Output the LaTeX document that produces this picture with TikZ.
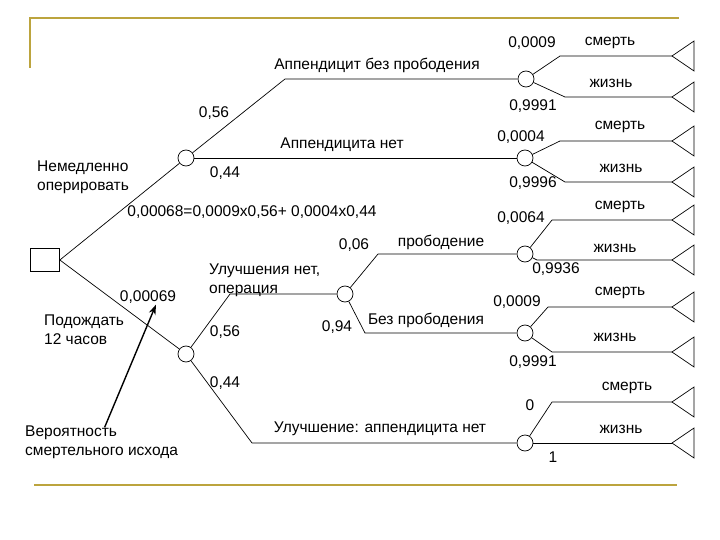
\documentclass[tikz,border=0pt]{standalone}
\usepackage{fontspec}
\setmainfont{Liberation Sans}
\usepackage{tikz}
\usetikzlibrary{arrows.meta}
\definecolor{framegold}{RGB}{188,164,62}
\tikzset{
    decision/.style={rectangle, draw, minimum width=29pt, minimum height=23pt, inner sep=0pt, line width=0.7pt},
    chance/.style={circle, draw, minimum size=16pt, inner sep=0pt, line width=0.7pt},
    branch/.style={draw, line width=0.7pt},
    lbl/.style={inner sep=0pt, font=\fontsize{15.5}{19}\selectfont},
    pointer/.style={-{Stealth[length=10pt, width=7pt]}, line width=1.4pt},
    frame/.style={line width=2pt, color=framegold}
}
\begin{document}
\begin{tikzpicture}[x=1pt, y=-1pt]
    \useasboundingbox (0,0) rectangle (720,540);

    % Rahmen
    \draw[frame] (30,68) -- (30,18) -- (679,18);
    \draw[frame] (34,485) -- (677,485);

    % Knoten
    \node[decision] (d) at (45,260) {};
    \node[chance] (c1) at (186,158) {};
    \node[chance] (c2) at (526,79) {};
    \node[chance] (c3) at (525,158) {};
    \node[chance] (c4) at (186,354) {};
    \node[chance] (c5) at (345,294) {};
    \node[chance] (c6) at (525,254) {};
    \node[chance] (c7) at (525,333) {};
    \node[chance] (c8) at (525,443) {};

    % Endknoten (Dreiecke)
    \foreach \i/\ty in {1/56, 2/97, 3/141, 4/182, 5/220, 6/260, 7/307, 8/352, 9/402, 10/443}{
        \coordinate (t\i) at (672,\ty);
        \draw[branch] (t\i) -- ++(22,-15) -- ++(0,30) -- cycle;
    }

    % Zweige
    \draw[branch] (d.east) -- (c1);
    \draw[branch] (d.east) -- (c4);
    \draw[branch] (c1) -- ([xshift=-241pt]c2.center) -- (c2);
    \draw[branch] (c1) -- (c3);
    \draw[branch] (c2) -- ([xshift=-112pt]t1) -- (t1);
    \draw[branch] (c2) -- ([xshift=-107pt]t2) -- (t2);
    \draw[branch] (c3) -- ([xshift=-112pt]t3) -- (t3);
    \draw[branch] (c3) -- ([xshift=-107pt]t4) -- (t4);
    \draw[branch] (c4) -- ([xshift=-115pt]c5.center) -- (c5);
    \draw[branch] (c4) -- ([xshift=-273pt]c8.center) -- (c8);
    \draw[branch] (c5) -- ([xshift=-147pt]c6.center) -- (c6);
    \draw[branch] (c5) -- ([xshift=-160pt]c7.center) -- (c7);
    \draw[branch] (c6) -- ([xshift=-120pt]t5) -- (t5);
    \draw[branch] (c6) -- ([xshift=-135pt]t6) -- (t6);
    \draw[branch] (c7) -- ([xshift=-124pt]t7) -- (t7);
    \draw[branch] (c7) -- ([xshift=-120pt]t8) -- (t8);
    \draw[branch] (c8) -- ([xshift=-120pt]t9) -- (t9);
    \draw[branch] (c8) -- (t10);

    % Beschriftungen oben
    \node[lbl] (p1) at (532,43) {0,0009};
    \node[lbl] (s1) at (610,43) {смерть};
    \node[lbl] (abp) at (377,65) {Аппендицит без прободения};
    \node[lbl] (z1) at (611,83) {жизнь};
    \node[lbl] (p2) at (533,106) {0,9991};
    \node[lbl] (q1) at (214,113) {0,56};
    \node[lbl] (an) at (342,145) {Аппендицита нет};
    \node[lbl] (p3) at (521,137) {0,0004};
    \node[lbl] (s2) at (620,127) {смерть};
    \node[lbl] (z2) at (621,168) {жизнь};
    \node[lbl] (p4) at (533,183) {0,9996};
    \node[lbl, align=left, anchor=west] (oper) at (37,177) {Немедленно\\оперировать};
    \node[lbl] (q2) at (225,173) {0,44};
    \node[lbl] (calc) at (252,212) {0,00068=0,0009х0,56+ 0,0004х0,44};

    % Beschriftungen unten
    \node[lbl] (q3) at (354,245) {0,06};
    \node[lbl] (prob) at (441,242) {прободение};
    \node[lbl, align=left, anchor=west] (noimp) at (209,280) {Улучшения нет,\\операция};
    \node[lbl] (v69) at (148,297) {0,00069};
    \node[lbl, align=left, anchor=west] (wait) at (44,330) {Подождать\\12 часов};
    \node[lbl] (q4) at (225,332) {0,56};
    \node[lbl] (q5) at (337,327) {0,94};
    \node[lbl] (bp) at (426,320) {Без прободения};
    \node[lbl] (p5) at (521,218) {0,0064};
    \node[lbl] (s3) at (620,207) {смерть};
    \node[lbl] (z3) at (615,248) {жизнь};
    \node[lbl] (p6) at (556,269) {0,9936};
    \node[lbl] (p7) at (517,302) {0,0009};
    \node[lbl] (s4) at (620,293) {смерть};
    \node[lbl] (z4) at (615,337) {жизнь};
    \node[lbl] (p8) at (533,362) {0,9991};
    \node[lbl] (q6) at (225,383) {0,44};
    \node[lbl] (p9) at (530,405) {0};
    \node[lbl] (s5) at (627,388) {смерть};
    \node[lbl] (imp) at (380,429) {Улучшение: аппендицита нет};
    \node[lbl] (z5) at (621,429) {жизнь};
    \node[lbl] (p10) at (553,457) {1};
    \node[lbl, align=left, anchor=west] (risk) at (25,442) {Вероятность\\смертельного исхода};

    % Pfeil
    \draw[pointer] ([xshift=3pt, yshift=-2pt]risk.north) -- ([xshift=8pt, yshift=-1pt]v69.south);
\end{tikzpicture}
\end{document}
